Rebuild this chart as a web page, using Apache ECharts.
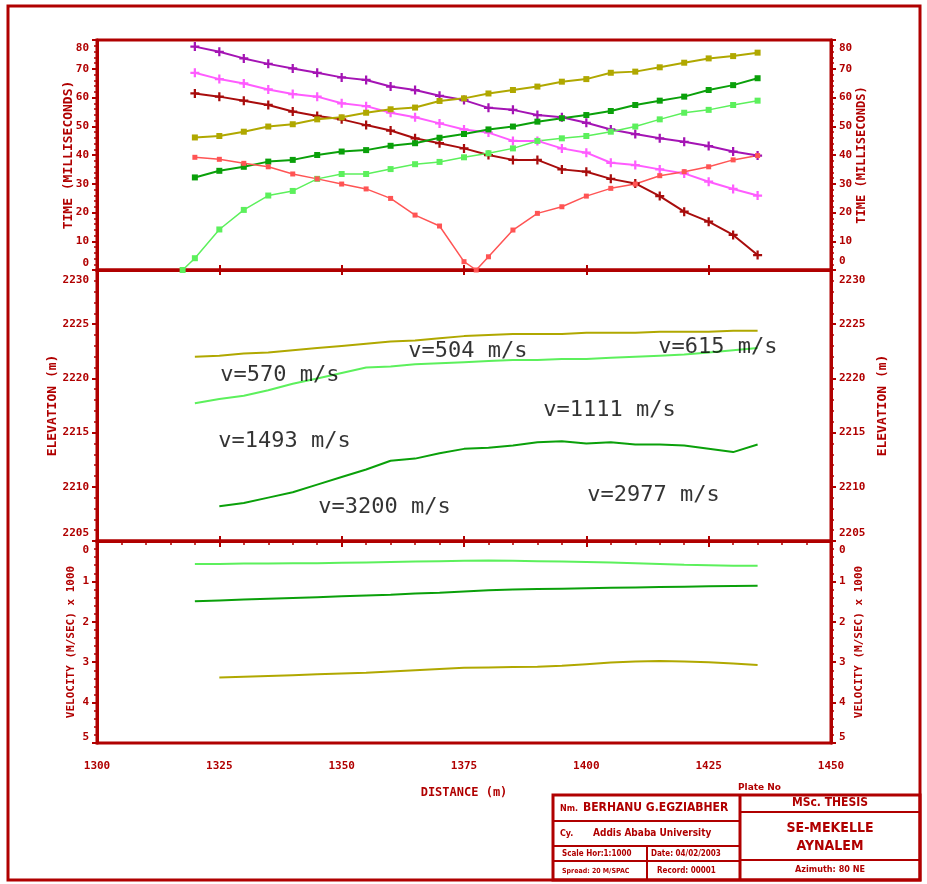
<!DOCTYPE html>
<html>
<head>
<meta charset="utf-8">
<title>Refraction profile SE-Mekelle / Aynalem</title>
<script src="https://cdn.jsdelivr.net/npm/echarts@6/dist/echarts.min.js"></script>
<style>
  html, body { margin: 0; padding: 0; background: #fff; }
  #chart { width: 927px; height: 884px; }
</style>
</head>
<body>
<div id="chart"></div>
<script>
// ---- Travel-time picks (ms) at each geophone position (m) ----
const distance = [1320,1325,1330,1335,1340,1345,1350,1355,1360,1365,1370,1375,1380,1385,1390,1395,1400,1405,1410,1415,1420,1425,1430,1435];
const timePurple  = [77.7,75.9,73.6,71.7,70.1,68.6,67.0,66.1,63.8,62.6,60.6,59.1,56.4,55.7,53.9,53.1,51.2,48.9,47.3,45.8,44.6,43.1,41.2,39.8];
const timePink    = [68.6,66.4,64.9,62.8,61.2,60.3,58.0,57.0,54.7,53.1,51.0,48.9,47.8,44.9,44.9,42.3,40.8,37.3,36.5,35.0,33.6,30.7,28.2,25.9];
const timeDarkRed = [61.4,60.3,58.9,57.4,55.1,53.6,52.4,50.4,48.5,45.8,44.1,42.3,40.0,38.3,38.3,35.0,34.2,31.7,30.1,25.7,20.3,16.8,12.2,5.2];
const timeOlive   = [46.1,46.6,48.1,49.9,50.7,52.4,53.1,54.7,55.9,56.5,58.8,59.7,61.4,62.6,63.8,65.5,66.4,68.6,69.0,70.5,72.1,73.6,74.4,75.6];
const timeGreen   = [32.2,34.5,35.9,37.7,38.3,40.0,41.2,41.7,43.2,44.1,46.0,47.3,48.9,49.9,51.6,52.8,53.9,55.3,57.4,58.9,60.3,62.6,64.3,66.7];
const lightGreenDist = [1317.5,1320,1325,1330,1335,1340,1345,1350,1355,1360,1365,1370,1375,1380,1385,1390,1395,1400,1405,1410,1415,1420,1425,1430,1435];
const timeLightGreen = [0,4.1,14.1,20.9,25.9,27.5,31.7,33.4,33.4,35.1,36.8,37.6,39.2,40.6,42.3,44.9,45.8,46.6,48.1,49.9,52.4,54.7,55.7,57.4,58.9];
const redDist = [1320,1325,1330,1335,1340,1345,1350,1355,1360,1365,1370,1375,1377.5,1380,1385,1390,1395,1400,1405,1410,1415,1420,1425,1430,1435];
const timeRed = [39.2,38.5,37.1,35.9,33.4,31.7,29.9,28.2,24.9,19.1,15.3,2.9,0,4.6,13.9,19.7,22.0,25.7,28.4,29.9,32.8,34.2,35.9,38.3,39.8];

// ---- Layer boundaries (elevation, m) ----
const elevOlive      = [2222.0,2222.1,2222.3,2222.4,2222.6,2222.8,2223.0,2223.2,2223.4,2223.5,2223.7,2223.9,2224.0,2224.1,2224.1,2224.1,2224.2,2224.2,2224.2,2224.3,2224.3,2224.3,2224.4,2224.4];
const elevLightGreen = [2217.7,2218.1,2218.4,2218.9,2219.5,2220.0,2220.5,2221.0,2221.1,2221.3,2221.4,2221.5,2221.6,2221.7,2221.7,2221.8,2221.8,2221.9,2222.0,2222.1,2222.2,2222.4,2222.6,2222.8];
const distFrom1325 = [1325,1330,1335,1340,1345,1350,1355,1360,1365,1370,1375,1380,1385,1390,1395,1400,1405,1410,1415,1420,1425,1430,1435];
const elevGreen      = [2208.2,2208.5,2209.0,2209.5,2210.2,2210.9,2211.6,2212.4,2212.6,2213.1,2213.5,2213.6,2213.8,2214.1,2214.2,2214.0,2214.1,2213.9,2213.9,2213.8,2213.5,2213.2,2213.9];

// ---- Layer velocities (km/s) ----
const velLightGreen = [0.57,0.57,0.56,0.56,0.55,0.55,0.54,0.53,0.52,0.51,0.50,0.49,0.48,0.49,0.50,0.51,0.52,0.53,0.55,0.57,0.59,0.60,0.61,0.615];
const velGreen      = [1.49,1.47,1.45,1.43,1.41,1.39,1.37,1.35,1.33,1.30,1.28,1.25,1.22,1.20,1.19,1.18,1.17,1.16,1.15,1.14,1.13,1.12,1.115,1.11];
const velOlive      = [3.38,3.36,3.34,3.32,3.30,3.28,3.26,3.23,3.20,3.17,3.14,3.13,3.12,3.11,3.09,3.05,3.01,2.98,2.97,2.98,3.00,3.03,3.07];

// ---- Velocity annotations in the depth section ----
const noteText = ['v=570 m/s','v=504 m/s','v=615 m/s','v=1111 m/s','v=1493 m/s','v=3200 m/s','v=2977 m/s'];
const noteDist = [1325.2,1363.6,1414.7,1391.2,1324.8,1345.2,1400.2];
const noteElev = [2220.3,2222.5,2222.9,2217.1,2214.2,2208.1,2209.2];

// ---- Axis ranges / ticks ----
const distRange = [1300, 1450, 25];
const timeRange = [0, 80, 10];
const elevRange = [2205, 2230, 5];
const velRange  = [0, 5, 1];

const RED = '#b00000';
const MONO = 'DejaVu Sans Mono';
const tickFont = { color: RED, fontFamily: MONO, fontWeight: 'bold', fontSize: 11 };
const pair = (xs, ys) => xs.map((x, i) => [x, ys[i]]);
const PLUS = 'path://M3,0H5V3H8V5H5V8H3V5H0V3H3Z';

// End labels are pulled inside the panel so neighbouring panels don't collide.
// topShift: px the label at the top edge moves down; botShift: px the bottom one moves up.
function yAxis(grid, range, pos, name, nameSize, gap, topShift, botShift, inverse) {
  const topVal = inverse ? range[0] : range[1];
  const botVal = inverse ? range[1] : range[0];
  return {
    type: 'value', gridIndex: grid, position: pos, inverse: !!inverse,
    min: range[0], max: range[1], interval: range[2],
    name: name, nameLocation: 'middle', nameGap: gap, nameRotate: 90,
    nameMoveOverlap: false,
    nameTextStyle: { color: RED, fontFamily: MONO, fontWeight: 'bold', fontSize: nameSize },
    axisLine: { show: true, lineStyle: { color: RED, width: 3 } },
    axisTick: { show: true, length: 5, lineStyle: { color: RED, width: 2 } },
    minorTick: { show: true, splitNumber: 5, length: 3, lineStyle: { color: RED, width: 1.5 } },
    axisLabel: Object.assign({
      margin: 8,
      formatter: v => v === topVal ? '{t|' + v + '}' : (v === botVal ? '{b|' + v + '}' : String(v)),
      rich: {
        t: Object.assign({ padding: [topShift * 2, 0, 0, 0] }, tickFont),
        b: Object.assign({ padding: [0, 0, botShift * 2, 0] }, tickFont)
      }
    }, tickFont),
    splitLine: { show: false }
  };
}

function innerX(grid, pos) {
  return {
    type: 'value', gridIndex: grid, position: pos,
    min: distRange[0], max: distRange[1], interval: distRange[2],
    axisLine: { show: true, lineStyle: { color: RED, width: 3 } },
    axisTick: { show: true, inside: true, length: 5, lineStyle: { color: RED, width: 2 } },
    axisLabel: { show: false },
    splitLine: { show: false }
  };
}

function line(name, xi, yi, data, color, symbol, size, width) {
  return {
    name: name, type: 'line', xAxisIndex: xi, yAxisIndex: yi, data: data,
    symbol: symbol || 'none', symbolSize: size || 0, showSymbol: !!symbol,
    lineStyle: { color: color, width: width || 2 },
    itemStyle: { color: color },
    silent: true, z: 3
  };
}

const gridBox = { left: 97, right: 96, show: true, borderColor: RED, borderWidth: 3, backgroundColor: 'transparent' };

const option = {
  animation: false,
  backgroundColor: '#fff',
  grid: [
    Object.assign({ top: 40, height: 230 }, gridBox),
    Object.assign({ top: 270, height: 271 }, gridBox),
    Object.assign({ top: 541, height: 202 }, gridBox)
  ],
  xAxis: [
    innerX(0, 'bottom'), innerX(0, 'top'),
    innerX(1, 'bottom'), innerX(1, 'top'),
    {
      type: 'value', gridIndex: 2, position: 'bottom',
      min: distRange[0], max: distRange[1], interval: distRange[2],
      name: 'DISTANCE (m)', nameLocation: 'middle', nameGap: 44,
      nameMoveOverlap: false,
      nameTextStyle: { color: RED, fontFamily: MONO, fontWeight: 'bold', fontSize: 12 },
      axisLine: { show: true, lineStyle: { color: RED, width: 3 } },
      axisTick: { show: true, length: 6, lineStyle: { color: RED, width: 2 } },
      minorTick: { show: true, splitNumber: 5, length: 4, lineStyle: { color: RED, width: 1.5 } },
      axisLabel: Object.assign({ margin: 18, formatter: v => String(v) }, tickFont),
      splitLine: { show: false }
    }
  ],
  yAxis: [
    yAxis(0, timeRange, 'left', 'TIME (MILLISECONDS)', 13, 22, 8, 7),
    yAxis(0, timeRange, 'right', 'TIME (MILLISECONDS)', 12, 25, 8, 9),
    yAxis(1, elevRange, 'left', 'ELEVATION (m)', 13, 38, 10, 8),
    yAxis(1, elevRange, 'right', 'ELEVATION (m)', 13, 45, 10, 8),
    yAxis(2, velRange, 'left', 'VELOCITY (M/SEC) x 1000', 11, 20, 9, 6, true),
    yAxis(2, velRange, 'right', 'VELOCITY (M/SEC) x 1000', 11, 23, 9, 6, true)
  ],
  series: [
    // travel times
    line('purple', 0, 0, pair(distance, timePurple), '#a414b4', PLUS, 9, 2),
    line('pink', 0, 0, pair(distance, timePink), '#ff5cff', PLUS, 9, 2),
    line('darkred', 0, 0, pair(distance, timeDarkRed), '#a80c0c', PLUS, 9, 2),
    line('olive', 0, 0, pair(distance, timeOlive), '#b0a800', 'rect', 6, 2),
    line('green', 0, 0, pair(distance, timeGreen), '#0aa00a', 'rect', 6, 2),
    line('lightgreen', 0, 0, pair(lightGreenDist, timeLightGreen), '#5cf05c', 'rect', 6, 1.5),
    line('red', 0, 0, pair(redDist, timeRed), '#ff5454', 'rect', 5, 1.5),
    // refractor depths
    line('elevOlive', 2, 2, pair(distance, elevOlive), '#b0a800', null, 0, 2),
    line('elevLightGreen', 2, 2, pair(distance, elevLightGreen), '#5cf05c', null, 0, 2),
    line('elevGreen', 2, 2, pair(distFrom1325, elevGreen), '#0aa00a', null, 0, 2),
    {
      name: 'notes', type: 'scatter', xAxisIndex: 2, yAxisIndex: 2,
      data: noteDist.map((d, i) => [d, noteElev[i], noteText[i]]),
      symbolSize: 0, silent: true, z: 5,
      label: {
        show: true, position: 'right', distance: 0,
        formatter: p => p.data[2],
        color: '#000', fontFamily: MONO, fontSize: 22
      }
    },
    // layer velocities
    line('velLightGreen', 4, 4, pair(distance, velLightGreen), '#5cf05c', null, 0, 2),
    line('velGreen', 4, 4, pair(distance, velGreen), '#0aa00a', null, 0, 2),
    line('velOlive', 4, 4, pair(distFrom1325, velOlive), '#b0a800', null, 0, 2)
  ],
  graphic: [
    { type: 'rect', shape: { x: 8, y: 6, width: 912, height: 874 }, style: { stroke: RED, lineWidth: 3, fill: null }, z: 10 },
    // title block
    { type: 'rect', shape: { x: 553, y: 795, width: 367, height: 85 }, style: { stroke: RED, lineWidth: 3, fill: null }, z: 10 },
    { type: 'line', shape: { x1: 740, y1: 795, x2: 740, y2: 880 }, style: { stroke: RED, lineWidth: 3 }, z: 10 },
    { type: 'line', shape: { x1: 553, y1: 821, x2: 740, y2: 821 }, style: { stroke: RED, lineWidth: 2 }, z: 10 },
    { type: 'line', shape: { x1: 553, y1: 846, x2: 740, y2: 846 }, style: { stroke: RED, lineWidth: 2 }, z: 10 },
    { type: 'line', shape: { x1: 553, y1: 861, x2: 740, y2: 861 }, style: { stroke: RED, lineWidth: 2 }, z: 10 },
    { type: 'line', shape: { x1: 647, y1: 846, x2: 647, y2: 880 }, style: { stroke: RED, lineWidth: 2 }, z: 10 },
    { type: 'line', shape: { x1: 740, y1: 812, x2: 920, y2: 812 }, style: { stroke: RED, lineWidth: 2 }, z: 10 },
    { type: 'line', shape: { x1: 740, y1: 860, x2: 920, y2: 860 }, style: { stroke: RED, lineWidth: 2 }, z: 10 },
    { type: 'text', x: 738, y: 788, style: { text: 'Plate No', fill: RED, font: 'bold 9px DejaVu Sans', textVerticalAlign: 'middle' }, z: 10 },
    { type: 'text', x: 560, y: 809, style: { text: 'Nm.', fill: RED, font: 'bold 8px DejaVu Sans', textVerticalAlign: 'middle' }, z: 10 },
    { type: 'text', x: 583, y: 808, style: { text: 'BERHANU G.EGZIABHER', fill: RED, font: 'bold 12px DejaVu Sans Condensed', textVerticalAlign: 'middle' }, z: 10 },
    { type: 'text', x: 560, y: 834, style: { text: 'Cy.', fill: RED, font: 'bold 8px DejaVu Sans', textVerticalAlign: 'middle' }, z: 10 },
    { type: 'text', x: 593, y: 833, style: { text: 'Addis Ababa University', fill: RED, font: 'bold 10px DejaVu Sans Condensed', textVerticalAlign: 'middle' }, z: 10 },
    { type: 'text', x: 562, y: 854, style: { text: 'Scale Hor:1:1000', fill: RED, font: 'bold 8px DejaVu Sans Condensed', textVerticalAlign: 'middle' }, z: 10 },
    { type: 'text', x: 651, y: 854, style: { text: 'Date: 04/02/2003', fill: RED, font: 'bold 8px DejaVu Sans Condensed', textVerticalAlign: 'middle' }, z: 10 },
    { type: 'text', x: 562, y: 871, style: { text: 'Spread: 20 M/SPAC', fill: RED, font: 'bold 7px DejaVu Sans Condensed', textVerticalAlign: 'middle' }, z: 10 },
    { type: 'text', x: 657, y: 871, style: { text: 'Record: 00001', fill: RED, font: 'bold 8px DejaVu Sans Condensed', textVerticalAlign: 'middle' }, z: 10 },
    { type: 'text', x: 830, y: 803, style: { text: 'MSc. THESIS', fill: RED, font: 'bold 12px DejaVu Sans Condensed', textAlign: 'center', textVerticalAlign: 'middle' }, z: 10 },
    { type: 'text', x: 830, y: 828, style: { text: 'SE-MEKELLE', fill: RED, font: 'bold 14px DejaVu Sans Condensed', textAlign: 'center', textVerticalAlign: 'middle' }, z: 10 },
    { type: 'text', x: 830, y: 846, style: { text: 'AYNALEM', fill: RED, font: 'bold 14px DejaVu Sans Condensed', textAlign: 'center', textVerticalAlign: 'middle' }, z: 10 },
    { type: 'text', x: 830, y: 870, style: { text: 'Azimuth: 80 NE', fill: RED, font: 'bold 9px DejaVu Sans Condensed', textAlign: 'center', textVerticalAlign: 'middle' }, z: 10 }
  ]
};

const chart = echarts.init(document.getElementById('chart'), null, { renderer: 'canvas' });
chart.setOption(option);
</script>
</body>
</html>
